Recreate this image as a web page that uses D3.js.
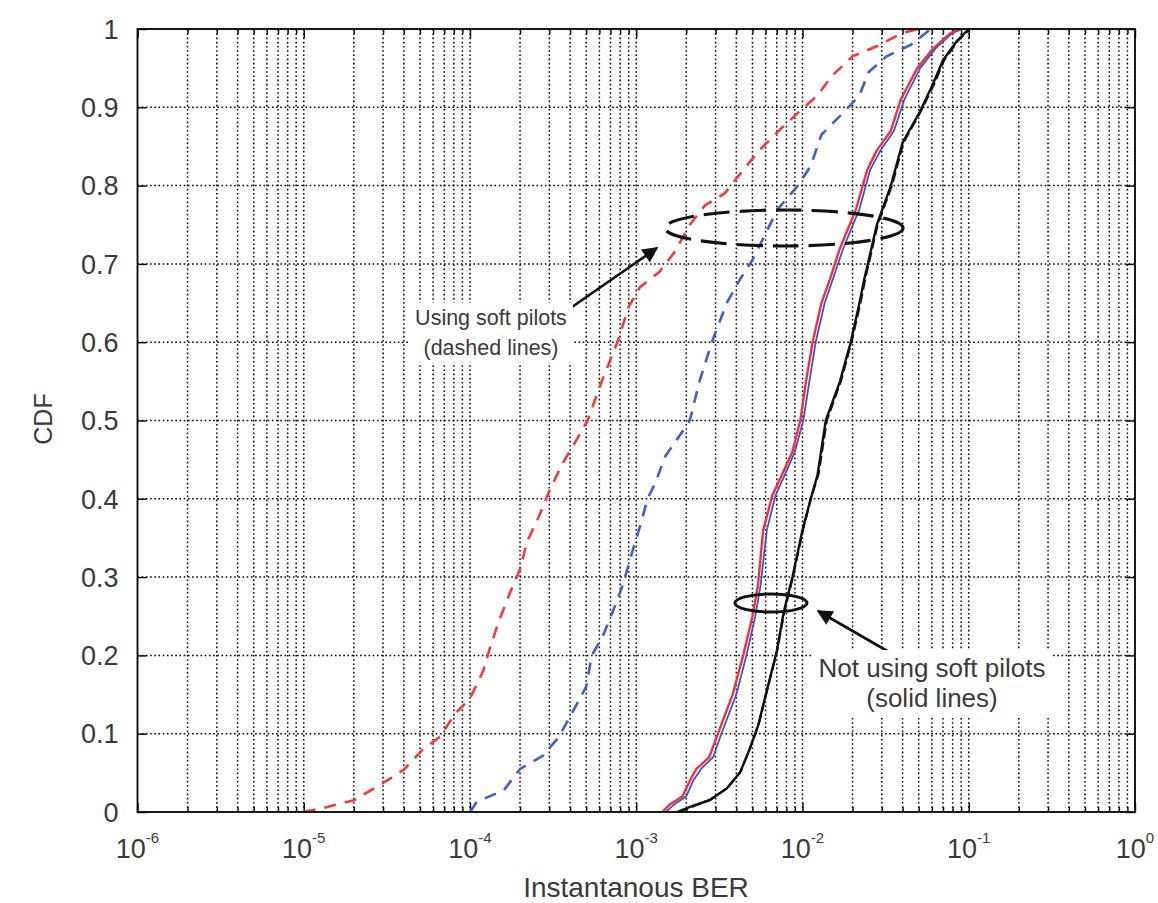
<!DOCTYPE html>
<html lang="en">
  <head>
    <meta charset="UTF-8" />
    <script src="https://d3js.org/d3.v7.min.js"></script>
    <title>CDF of instantaneous BER</title>
    <style>
      body { margin: 0; background: #fff; }
      text { font-family: "Liberation Sans", Arial, sans-serif; fill: #3a3a3a; }
      .grid line { stroke: #000; stroke-width: 1.5; stroke-dasharray: 1.6, 2.6; }
    </style>
  </head>
  <body>
    <script>
      var width = 1158
      var height = 903
      var margin = { left: 137.5, top: 29, right: 23, bottom: 91 }

      // tick values / labels
      var xDecades = [1e-6, 1e-5, 1e-4, 1e-3, 1e-2, 1e-1, 1]
      var xExponents = ['-6', '-5', '-4', '-3', '-2', '-1', '0']
      var yTicks = [0, 0.1, 0.2, 0.3, 0.4, 0.5, 0.6, 0.7, 0.8, 0.9, 1]
      var yLabels = ['0', '0.1', '0.2', '0.3', '0.4', '0.5', '0.6', '0.7', '0.8', '0.9', '1']

      // [BER, CDF]
      var redDashed = [[1e-5, 0], [1.3e-5, 0.005], [2e-5, 0.015], [3e-5, 0.037], [4e-5, 0.054], [5.2e-5, 0.08],
        [6.6e-5, 0.096], [8.1e-5, 0.125], [1e-4, 0.145], [1.2e-4, 0.18], [1.32e-4, 0.21], [1.5e-4, 0.245],
        [1.74e-4, 0.28], [2e-4, 0.31], [2.2e-4, 0.345], [2.57e-4, 0.375], [3e-4, 0.41], [3.6e-4, 0.445],
        [4.1e-4, 0.465], [5.1e-4, 0.5], [6.2e-4, 0.55], [7.7e-4, 0.6], [9e-4, 0.645], [1.05e-3, 0.67],
        [1.38e-3, 0.69], [1.7e-3, 0.715], [2.1e-3, 0.75], [2.6e-3, 0.775], [3.4e-3, 0.79], [4.4e-3, 0.82],
        [5.5e-3, 0.845], [7.2e-3, 0.87], [9.6e-3, 0.895], [1.23e-2, 0.915], [1.5e-2, 0.94], [2e-2, 0.965],
        [2.8e-2, 0.978], [4e-2, 0.995], [5e-2, 1]]

      var blueDashed = [[1e-4, 0], [1.1e-4, 0.013], [1.6e-4, 0.028], [2e-4, 0.055], [2.75e-4, 0.072], [3.4e-4, 0.095],
        [4.2e-4, 0.13], [5e-4, 0.16], [5.4e-4, 0.2], [6.3e-4, 0.225], [7.2e-4, 0.255], [8.3e-4, 0.29],
        [9.4e-4, 0.33], [1.07e-3, 0.37], [1.17e-3, 0.4], [1.3e-3, 0.42], [1.5e-3, 0.455], [1.75e-3, 0.475],
        [2.1e-3, 0.5], [2.4e-3, 0.55], [2.85e-3, 0.6], [3.5e-3, 0.65], [4.2e-3, 0.68], [5e-3, 0.705],
        [6.2e-3, 0.745], [7.1e-3, 0.77], [9.4e-3, 0.8], [1.12e-2, 0.825], [1.3e-2, 0.865], [1.7e-2, 0.89],
        [2.2e-2, 0.915], [2.5e-2, 0.945], [3.2e-2, 0.965], [4.5e-2, 0.98], [5.9e-2, 1]]

      var redSolid = [[1.43e-3, 0], [1.6e-3, 0.01], [1.9e-3, 0.02], [2.1e-3, 0.04], [2.3e-3, 0.055], [2.75e-3, 0.07],
        [3.1e-3, 0.1], [3.8e-3, 0.15], [4.4e-3, 0.2], [5e-3, 0.25], [5.4e-3, 0.29], [5.8e-3, 0.36],
        [6.6e-3, 0.405], [7.5e-3, 0.43], [8.7e-3, 0.46], [9.7e-3, 0.5], [1.05e-2, 0.55], [1.15e-2, 0.6],
        [1.3e-2, 0.65], [1.46e-2, 0.68], [1.68e-2, 0.72], [2.1e-2, 0.77], [2.45e-2, 0.82], [2.8e-2, 0.845],
        [3.4e-2, 0.87], [3.9e-2, 0.91], [4.9e-2, 0.95], [6.1e-2, 0.975], [7.8e-2, 0.995], [8.9e-2, 1]]

      var blueSolid = [[1.5e-3, 0], [1.7e-3, 0.01], [2e-3, 0.02], [2.2e-3, 0.04], [2.45e-3, 0.055], [2.9e-3, 0.07],
        [3.25e-3, 0.1], [4e-3, 0.15], [4.6e-3, 0.2], [5.2e-3, 0.25], [5.6e-3, 0.29], [6.1e-3, 0.36],
        [6.9e-3, 0.405], [7.8e-3, 0.43], [9e-3, 0.46], [1.01e-2, 0.5], [1.1e-2, 0.55], [1.2e-2, 0.6],
        [1.36e-2, 0.65], [1.52e-2, 0.68], [1.76e-2, 0.72], [2.2e-2, 0.77], [2.55e-2, 0.82], [2.95e-2, 0.845],
        [3.55e-2, 0.87], [4.1e-2, 0.91], [5.1e-2, 0.95], [6.3e-2, 0.975], [8e-2, 0.995], [9.2e-2, 1]]

      var blackSolid = [[1.76e-3, 0], [2.2e-3, 0.008], [2.76e-3, 0.015], [3.5e-3, 0.03], [4.2e-3, 0.05], [4.8e-3, 0.08],
        [5.4e-3, 0.11], [6.1e-3, 0.155], [7e-3, 0.205], [7.7e-3, 0.255], [8.7e-3, 0.3], [1e-2, 0.36],
        [1.12e-2, 0.4], [1.23e-2, 0.43], [1.38e-2, 0.5], [1.68e-2, 0.55], [1.95e-2, 0.6], [2.2e-2, 0.65],
        [2.35e-2, 0.68], [2.8e-2, 0.75], [3.4e-2, 0.8], [4e-2, 0.855], [5.1e-2, 0.895], [6.1e-2, 0.93],
        [7e-2, 0.96], [8.5e-2, 0.985], [1e-1, 1]]

      var blackDashed = [[1.8e-3, 0], [2.25e-3, 0.008], [2.8e-3, 0.016], [3.55e-3, 0.031], [4.25e-3, 0.052], [4.85e-3, 0.082],
        [5.45e-3, 0.112], [6.15e-3, 0.157], [7.05e-3, 0.207], [7.8e-3, 0.257], [8.8e-3, 0.302], [1.01e-2, 0.362],
        [1.13e-2, 0.402], [1.25e-2, 0.432], [1.4e-2, 0.5], [1.7e-2, 0.55], [1.97e-2, 0.6], [2.23e-2, 0.65],
        [2.38e-2, 0.68], [2.83e-2, 0.75], [3.45e-2, 0.8], [4.05e-2, 0.855], [5.15e-2, 0.895], [6.2e-2, 0.93],
        [7.1e-2, 0.96], [8.6e-2, 0.985], [1.02e-1, 1]]

      var series = [
        { name: 'redDashed', data: redDashed, color: '#f23a3a', width: 2.6, dash: '12,9' },
        { name: 'blueDashed', data: blueDashed, color: '#3f5fcf', width: 2.6, dash: '12,9' },
        { name: 'blackDashed', data: blackDashed, color: '#111', width: 2.2, dash: '10,4' },
        { name: 'blackSolid', data: blackSolid, color: '#111', width: 2.4, dash: null },
        { name: 'blueSolid', data: blueSolid, color: '#3a55cc', width: 1.8, dash: null },
        { name: 'redSolid', data: redSolid, color: '#f2303a', width: 2.4, dash: null }
      ]

      var svg = d3.select('body').append('svg').attr('width', width).attr('height', height)

      var x = d3.scaleLog().domain([1e-6, 1]).range([margin.left, width - margin.right])
      var y = d3.scaleLinear().domain([0, 1]).range([height - margin.bottom, margin.top])

      // grid
      var grid = svg.append('g').attr('class', 'grid')
      grid.selectAll('line.v')
        .data(x.ticks().filter(function (d) { return d > 1e-6 && d < 1 }))
        .enter().append('line')
        .attr('class', 'v')
        .attr('x1', function (d) { return x(d) }).attr('x2', function (d) { return x(d) })
        .attr('y1', y(0)).attr('y2', y(1))
      grid.selectAll('line.h')
        .data(yTicks.slice(1, -1))
        .enter().append('line')
        .attr('class', 'h')
        .attr('x1', x(1e-6)).attr('x2', x(1))
        .attr('y1', function (d) { return y(d) }).attr('y2', function (d) { return y(d) })

      // axes with inward ticks
      var xMinor = x.ticks()
      var xAxis = svg.append('g')
        .attr('transform', 'translate(0,' + y(0) + ')')
        .call(d3.axisTop(x).tickValues(xMinor).tickSize(5).tickFormat(''))
      xAxis.selectAll('.tick line').attr('stroke-width', 1.4)
        .attr('y2', function (d) { return xDecades.indexOf(d) >= 0 ? -9 : -5 })
      xAxis.select('.domain').remove()

      var xTop = svg.append('g')
        .attr('transform', 'translate(0,' + y(1) + ')')
        .call(d3.axisBottom(x).tickValues(xMinor).tickSize(5).tickFormat(''))
      xTop.selectAll('.tick line').attr('stroke-width', 1.4)
        .attr('y2', function (d) { return xDecades.indexOf(d) >= 0 ? 9 : 5 })
      xTop.select('.domain').remove()

      var yAxis = svg.append('g')
        .attr('transform', 'translate(' + x(1e-6) + ',0)')
        .call(d3.axisRight(y).tickValues(yTicks).tickSize(9).tickFormat(''))
      yAxis.selectAll('.tick line').attr('stroke-width', 1.4)
      yAxis.select('.domain').remove()
      var yRight = svg.append('g')
        .attr('transform', 'translate(' + x(1) + ',0)')
        .call(d3.axisLeft(y).tickValues(yTicks).tickSize(9).tickFormat(''))
      yRight.selectAll('.tick line').attr('stroke-width', 1.4)
      yRight.select('.domain').remove()

      // tick labels
      svg.append('g').selectAll('text')
        .data(yTicks)
        .enter().append('text')
        .attr('x', x(1e-6) - 19)
        .attr('y', function (d) { return y(d) })
        .attr('dy', '0.36em')
        .attr('text-anchor', 'end')
        .attr('font-size', 27)
        .text(function (d, i) { return yLabels[i] })

      var xl = svg.append('g').selectAll('text')
        .data(xDecades)
        .enter().append('text')
        .attr('x', function (d) { return x(d) })
        .attr('y', y(0) + 46)
        .attr('text-anchor', 'middle')
        .attr('font-size', 27)
      xl.append('tspan').text('10')
      xl.append('tspan').attr('font-size', 15).attr('dy', -15)
        .text(function (d, i) { return xExponents[i] })

      // axis titles
      svg.append('text')
        .attr('x', 636).attr('y', 897)
        .attr('text-anchor', 'middle')
        .attr('font-size', 28)
        .text('Instantanous BER')
      svg.append('text')
        .attr('transform', 'translate(52,419) rotate(-90)')
        .attr('text-anchor', 'middle')
        .attr('font-size', 25)
        .text('CDF')

      // curves
      var line = d3.line()
        .x(function (d) { return x(d[0]) })
        .y(function (d) { return y(d[1]) })

      svg.append('g').selectAll('path')
        .data(series)
        .enter().append('path')
        .attr('d', function (d) { return line(d.data) })
        .attr('fill', 'none')
        .attr('stroke', function (d) { return d.color })
        .attr('stroke-width', function (d) { return d.width })
        .attr('stroke-dasharray', function (d) { return d.dash })
        .attr('stroke-linejoin', 'round')

      // frame
      svg.append('rect')
        .attr('x', x(1e-6)).attr('y', y(1))
        .attr('width', x(1) - x(1e-6)).attr('height', y(0) - y(1))
        .attr('fill', 'none').attr('stroke', '#000').attr('stroke-width', 1.8)

      // annotations
      svg.append('defs').append('marker')
        .attr('id', 'arrow').attr('viewBox', '0 0 10 10')
        .attr('refX', 9).attr('refY', 5)
        .attr('markerWidth', 7).attr('markerHeight', 6)
        .attr('markerUnits', 'strokeWidth')
        .attr('orient', 'auto')
        .append('path').attr('d', 'M0,0 L10,5 L0,10 Z').attr('fill', '#111')

      svg.append('ellipse')
        .attr('cx', 784).attr('cy', 228).attr('rx', 119).attr('ry', 18)
        .attr('fill', 'none').attr('stroke', '#111').attr('stroke-width', 3.2)
        .attr('stroke-dasharray', '26,10')
      svg.append('ellipse')
        .attr('cx', 771).attr('cy', 603).attr('rx', 36).attr('ry', 9)
        .attr('fill', 'none').attr('stroke', '#111').attr('stroke-width', 3)

      svg.append('line')
        .attr('x1', 572).attr('y1', 307).attr('x2', 657).attr('y2', 248)
        .attr('stroke', '#111').attr('stroke-width', 2.6).attr('marker-end', 'url(#arrow)')
      svg.append('line')
        .attr('x1', 889).attr('y1', 652).attr('x2', 818).attr('y2', 611)
        .attr('stroke', '#111').attr('stroke-width', 2.6).attr('marker-end', 'url(#arrow)')

      var notes = [
        { lines: ['Using soft pilots', '(dashed lines)'], x: 491, y: 317, size: 21.5 },
        { lines: ['Not using soft pilots', '(solid lines)'], x: 932, y: 668, size: 26 }
      ]
      notes.forEach(function (n) {
        var g = svg.append('g')
        var t = g.append('text').attr('text-anchor', 'middle').attr('font-size', n.size)
        n.lines.forEach(function (s, i) {
          t.append('tspan').attr('x', n.x).attr('y', n.y + i * 30).attr('dy', '0.35em').text(s)
        })
        var b = t.node().getBBox()
        g.insert('rect', 'text')
          .attr('x', b.x - 6).attr('y', b.y - 3)
          .attr('width', b.width + 12).attr('height', b.height + 6)
          .attr('fill', '#fff')
      })
    </script>
  </body>
</html>
